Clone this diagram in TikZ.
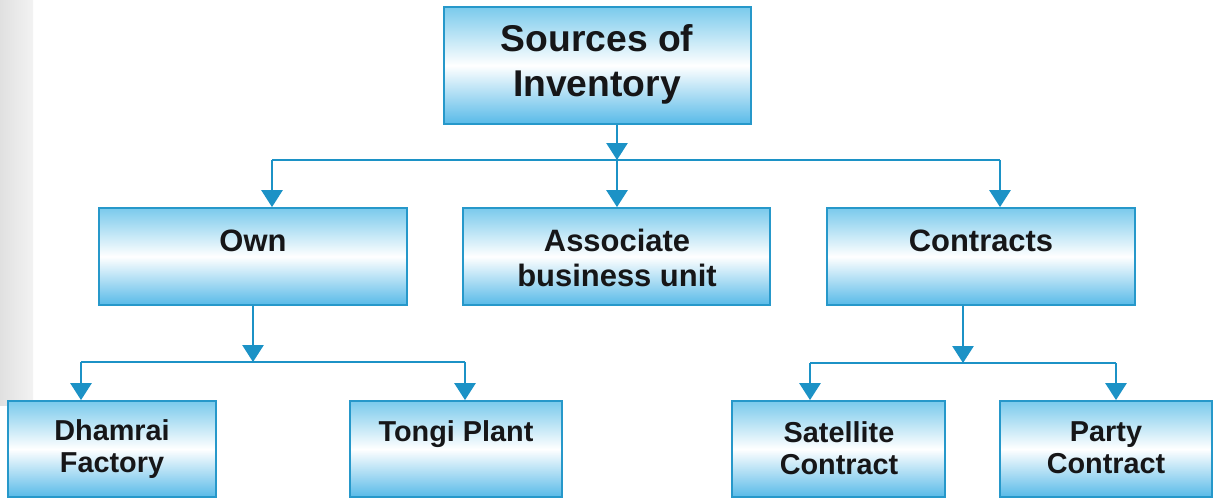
\documentclass[tikz,border=0pt]{standalone}
\usepackage{fontspec}
\setmainfont{Liberation Sans}
\usetikzlibrary{arrows.meta,fit}

\definecolor{edgeblue}{RGB}{38,152,202}
\definecolor{linkblue}{RGB}{28,146,198}
\definecolor{shadetop}{RGB}{122,202,236}
\definecolor{shadebot}{RGB}{88,186,232}
\definecolor{inkdark}{RGB}{22,22,24}

\tikzset{
  x=0.025cm, y=-0.025cm,
  box/.style={draw=edgeblue, line width=1.3pt, inner sep=0pt,
    top color=shadetop, bottom color=shadebot, middle color=white},
  lbl/.style={inner sep=0pt, text=inkdark, align=center, font=\bfseries},
  bigtxt/.style={lbl, font=\bfseries\fontsize{26.5}{32}\selectfont},
  midtxt/.style={lbl, font=\bfseries\fontsize{22}{25}\selectfont},
  lowtxt/.style={lbl, font=\bfseries\fontsize{20.5}{23}\selectfont},
  link/.style={draw=linkblue, line width=1.4pt},
  linkarrow/.style={link, -{Triangle[width=15pt,length=12pt]}},
}

\begin{document}
\begin{tikzpicture}
\useasboundingbox (0,0) rectangle (1215,498);

% scanned page edge
\shade[left color=black!12, right color=black!5] (0,0) rectangle (33,405);

% boxes
\node[box, fit={(444,7) (751,124)}] (src) {};
\node[box, fit={(99,208) (407,305)}] (own) {};
\node[box, fit={(463,208) (770,305)}] (assoc) {};
\node[box, fit={(827,208) (1135,305)}] (contr) {};
\node[box, fit={(8,401) (216,497)}] (dham) {};
\node[box, fit={(350,401) (562,497)}] (tongi) {};
\node[box, fit={(732,401) (945,497)}] (sat) {};
\node[box, fit={(1000,401) (1212,497)}] (party) {};

% labels
\node[bigtxt] (srcT) at (597,64) {Sources of\\Inventory};
\node[midtxt, anchor=base] (ownT) at (253,252) {Own};
\node[midtxt] (assocT) at (617,258) {Associate\\business unit};
\node[midtxt, anchor=base] (contrT) at (981,251) {Contracts};
\node[lowtxt] (dhamT) at (112,449) {Dhamrai\\Factory};
\node[lowtxt, anchor=base] (tongiT) at (456,441) {Tongi Plant};
\node[lowtxt] (satT) at (839,448) {Satellite\\Contract};
\node[lowtxt] (partyT) at (1106,448) {Party\\Contract};

% junction points of the connector bars
\coordinate (j1) at (617,160);
\coordinate (j1l) at (272,160);
\coordinate (j1r) at (1000,160);
\coordinate (j2) at (253,362);
\coordinate (j2l) at (81,362);
\coordinate (j2r) at (465,362);
\coordinate (j3) at (963,363);
\coordinate (j3l) at (810,363);
\coordinate (j3r) at (1116,363);

% first level
\draw[linkarrow] (src.south -| j1) -- (j1);
\draw[link] (j1l) -- (j1r);
\draw[linkarrow] (j1l) -- (own.north -| j1l);
\draw[linkarrow] (j1) -- (assoc.north -| j1);
\draw[linkarrow] (j1r) -- (contr.north -| j1r);

% own branch
\draw[linkarrow] (own.south -| j2) -- (j2);
\draw[link] (j2l) -- (j2r);
\draw[linkarrow] (j2l) -- (dham.north -| j2l);
\draw[linkarrow] (j2r) -- (tongi.north -| j2r);

% contracts branch
\draw[linkarrow] (contr.south -| j3) -- (j3);
\draw[link] (j3l) -- (j3r);
\draw[linkarrow] (j3l) -- (sat.north -| j3l);
\draw[linkarrow] (j3r) -- (party.north -| j3r);
\end{tikzpicture}
\end{document}
